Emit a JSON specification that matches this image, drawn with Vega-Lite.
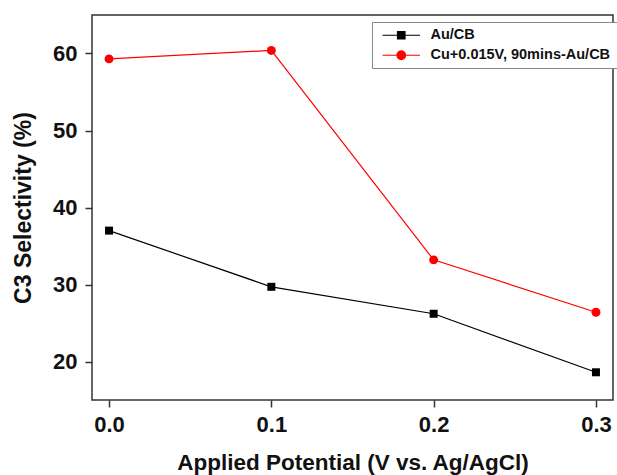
{
  "$schema": "https://vega.github.io/schema/vega-lite/v6.json",
  "width": 521,
  "height": 385,
  "autosize": {"type": "none"},
  "padding": {"left": 92, "top": 15, "right": 4, "bottom": 75},
  "background": "white",
  "config": {
    "font": "Liberation Sans",
    "view": {"stroke": "#333333", "strokeWidth": 1.5},
    "axis": {
      "domain": false,
      "grid": false,
      "ticks": true,
      "tickColor": "#333333",
      "tickWidth": 1.5,
      "tickSize": 7,
      "labelFont": "Liberation Sans",
      "labelFontWeight": "bold",
      "labelFontSize": 22,
      "labelColor": "#111111",
      "titleFont": "Liberation Sans",
      "titleFontWeight": "bold",
      "titleColor": "#111111"
    }
  },
  "data": {
    "values": [
      {"potential": 0.0, "selectivity": 37.0, "sample": "Au/CB"},
      {"potential": 0.1, "selectivity": 29.7, "sample": "Au/CB"},
      {"potential": 0.2, "selectivity": 26.2, "sample": "Au/CB"},
      {"potential": 0.3, "selectivity": 18.6, "sample": "Au/CB"},
      {"potential": 0.0, "selectivity": 59.3, "sample": "Cu+0.015V, 90mins-Au/CB"},
      {"potential": 0.1, "selectivity": 60.4, "sample": "Cu+0.015V, 90mins-Au/CB"},
      {"potential": 0.2, "selectivity": 33.2, "sample": "Cu+0.015V, 90mins-Au/CB"},
      {"potential": 0.3, "selectivity": 26.4, "sample": "Cu+0.015V, 90mins-Au/CB"}
    ]
  },
  "encoding": {
    "x": {
      "field": "potential",
      "type": "quantitative",
      "scale": {"domain": [-0.0105, 0.3105], "nice": false, "zero": false},
      "axis": {
        "title": "Applied Potential (V vs. Ag/AgCl)",
        "titleFontSize": 22.5,
        "values": [0, 0.1, 0.2, 0.3],
        "format": ".1f",
        "labelPadding": 7,
        "titlePadding": 16
      }
    },
    "y": {
      "field": "selectivity",
      "type": "quantitative",
      "scale": {"domain": [15, 65], "nice": false, "zero": false},
      "axis": {
        "title": "C3 Selectivity (%)",
        "titleFontSize": 23,
        "values": [20, 30, 40, 50, 60],
        "labelPadding": 8,
        "titlePadding": 17
      }
    },
    "color": {
      "field": "sample",
      "type": "nominal",
      "scale": {
        "domain": ["Au/CB", "Cu+0.015V, 90mins-Au/CB"],
        "range": ["#000000", "#ff0000"]
      },
      "legend": {
        "title": null,
        "orient": "none",
        "legendX": 280,
        "legendY": 7,
        "direction": "vertical",
        "strokeColor": "#888888",
        "fillColor": "white",
        "padding": 6,
        "symbolSize": 56,
        "symbolOffset": 16,
        "labelOffset": 22,
        "labelLimit": 0,
        "rowPadding": 5,
        "labelFont": "Liberation Sans",
        "labelFontWeight": "bold",
        "labelFontSize": 14.5,
        "labelColor": "#111111",
        "encode": {
          "symbols": {
            "update": {
              "shape": {"signal": "datum.value === 'Au/CB' ? 'M-5,0H5M-1,-1H1V1H-1Z' : 'M-5,0H5M1.15,0A1.15,1.15 0 1,1 -1.15,0A1.15,1.15 0 1,1 1.15,0Z'"},
              "fill": {"signal": "datum.value === 'Au/CB' ? '#000000' : '#ff0000'"},
              "stroke": {"signal": "datum.value === 'Au/CB' ? '#000000' : '#ff0000'"},
              "strokeWidth": {"value": 1.2},
              "opacity": {"value": 1}
            }
          }
        }
      }
    }
  },
  "layer": [
    {
      "mark": {"type": "line", "strokeWidth": 1.2}
    },
    {
      "transform": [{"filter": "datum.sample === 'Au/CB'"}],
      "mark": {"type": "point", "shape": "square", "filled": true, "opacity": 1, "size": 64}
    },
    {
      "transform": [{"filter": "datum.sample !== 'Au/CB'"}],
      "mark": {"type": "point", "shape": "circle", "filled": true, "opacity": 1, "size": 80}
    }
  ]
}
